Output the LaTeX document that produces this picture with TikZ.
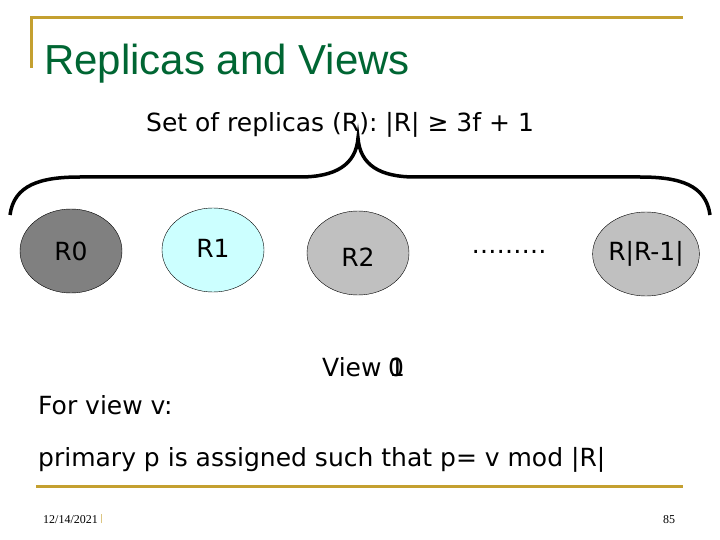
\documentclass[tikz,border=0pt]{standalone}
\usepackage{fontspec}
\setmainfont{DejaVu Sans}
\newfontfamily\titlefont{Liberation Sans}
\newfontfamily\footfont{Liberation Serif}
\usetikzlibrary{shapes.geometric}
\definecolor{slidegold}{RGB}{196,160,48}
\definecolor{titlegreen}{RGB}{0,102,51}
\definecolor{replicacyan}{RGB}{204,255,255}
\definecolor{replicadark}{RGB}{128,128,128}
\definecolor{replicagray}{RGB}{192,192,192}

\begin{document}
\begin{tikzpicture}[x=1pt,y=-1pt,
    replica/.style={ellipse, draw=black, thin, minimum width=102pt, minimum height=84pt,
      inner sep=0pt, font=\fontsize{25}{30}\selectfont},
    body/.style={anchor=base west, inner sep=0pt, font=\fontsize{25}{30}\selectfont}]
  \useasboundingbox (0,0) rectangle (720,540);
  \fill[white] (0,0) rectangle (720,540);

  % Draw the slide frame
  \draw[slidegold, line width=3pt] (31,68) -- (31,18) -- (683,18);
  \draw[slidegold, line width=3pt] (36,486) -- (683,486);

  % Title and set of replicas
  \node[anchor=base west, inner sep=0pt, text=titlegreen,
    font=\titlefont\fontsize{42}{48}\selectfont] (title) at (44,75) {Replicas and Views};
  \node[body] (set) at (146,132) {Set of replicas (R): |R| ≥ 3f + 1};

  % Draw the curly brace over the replicas
  \draw[line width=3.5pt] (10,215) .. controls (14,185) and (40,177) .. (80,177)
    -- (300,177) .. controls (335,177) and (356,165) .. (358,138)
    .. controls (360,165) and (380,177) .. (415,177)
    -- (640,177) .. controls (680,177) and (706,185) .. (710,215);

  % Replicas
  \node[replica, fill=replicadark] (r0) at (71,251) {R0};
  \node[replica, fill=replicacyan] (r1) at (213,250) {};
  \node[font=\fontsize{25}{30}\selectfont] (r1label) at (213,248) {R1};
  \node[replica, fill=replicagray] (r2) at (358,253) {};
  \node[font=\fontsize{25}{30}\selectfont] (r2label) at (358,257) {R2};
  \node[font=\fontsize{25}{30}\selectfont] (dots) at (509,252) {………};
  \node[replica, fill=replicagray] (rlast) at (646,254) {R|R-1|};

  % View number (0 and 1 drawn on top of each other)
  \node[body] (view) at (322,376) {View};
  \node[body] (viewzero) at (388,376) {0};
  \node[body] (viewone) at (389,376) {1};

  % Primary rule
  \node[body] (forview) at (38,414) {For view v:};
  \node[body] (primary) at (38,466) {primary p is assigned such that p= v mod |R|};

  % Footer
  \node[anchor=base west, inner sep=0pt, font=\footfont\fontsize{12}{14}\selectfont] (date) at (43,523) {12/14/2021};
  \draw[slidegold!60, line width=0.6pt] (date.base east) ++(3,0) -- ++(0,-9);
  \node[anchor=base west, inner sep=0pt, font=\footfont\fontsize{12}{14}\selectfont] (page) at (663,523) {85};
\end{tikzpicture}
\end{document}
